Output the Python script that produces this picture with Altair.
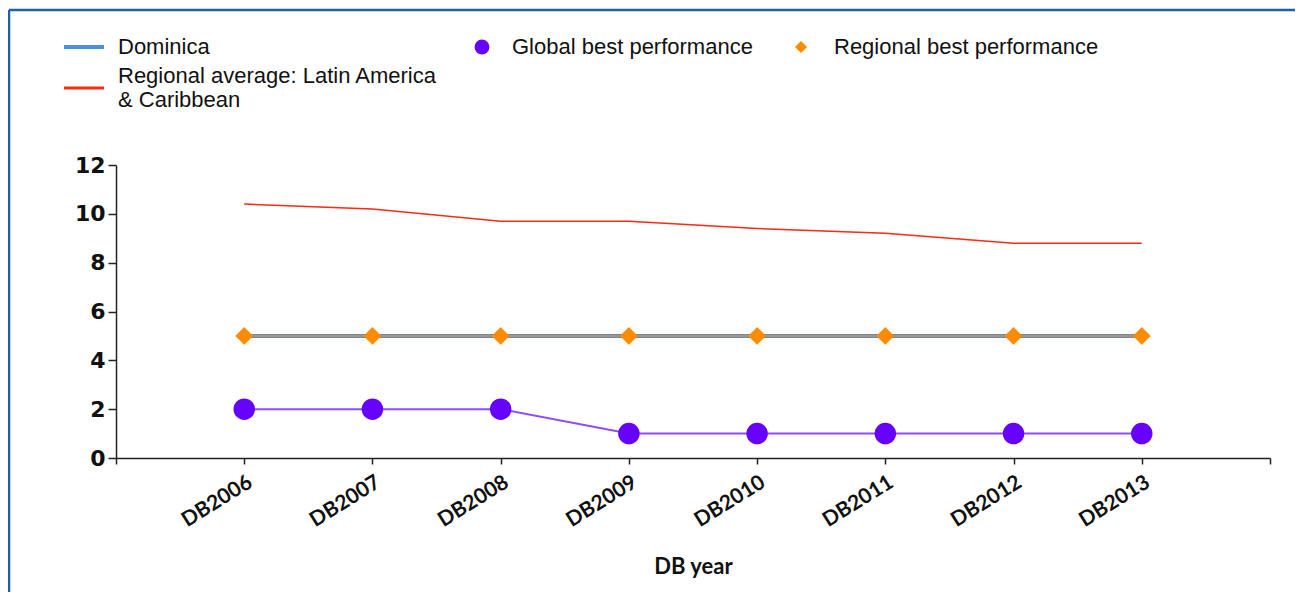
import altair as alt
import pandas as pd

years = ["DB2006", "DB2007", "DB2008", "DB2009", "DB2010", "DB2011", "DB2012", "DB2013"]
dominica = [5, 5, 5, 5, 5, 5, 5, 5]
regional_avg = [10.4, 10.2, 9.7, 9.7, 9.4, 9.2, 8.8, 8.8]
global_best = [2, 2, 2, 1, 1, 1, 1, 1]
regional_best = [5, 5, 5, 5, 5, 5, 5, 5]

df = pd.DataFrame({
    "year": years,
    "idx": list(range(1, len(years) + 1)),
    "dominica": dominica,
    "regional_avg": regional_avg,
    "global_best": global_best,
    "regional_best": regional_best,
})

label_arr = "[''," + ",".join("'%s'" % y for y in years) + ",'']"

W, H = 1154, 293
x = alt.X("idx:Q", scale=alt.Scale(domain=[0, len(years) + 1], nice=False, zero=False),
          axis=alt.Axis(title="DB year", values=list(range(0, len(years) + 2)),
                        labelExpr=label_arr + "[datum.value]",
                        labelAngle=-32, labelAlign="right", labelBaseline="top",
                        labelFont="Lato", labelFontWeight="bold", labelFontSize=21,
                        labelColor="#111", labelPadding=7,
                        titleFont="Lato", titleFontWeight="bold", titleFontSize=22,
                        titleColor="#111", titlePadding=26,
                        grid=False, domainColor="#222", tickColor="#222",
                        domainWidth=1.5, tickWidth=1.5, tickSize=6))
yaxis = alt.Axis(title=None, values=[0, 2, 4, 6, 8, 10, 12], grid=False,
                 labelFont="DejaVu Sans", labelFontWeight="bold", labelFontSize=22,
                 labelColor="#111", labelPadding=3,
                 domainColor="#222", tickColor="#222", domainWidth=1.5, tickWidth=1.5, tickSize=8)
yscale = alt.Scale(domain=[0, 12], nice=False)

base = alt.Chart(df)

dom_line = base.mark_line(color="#4a90e2", strokeWidth=4).encode(
    x=x, y=alt.Y("dominica:Q", scale=yscale, axis=yaxis))
avg_line = base.mark_line(color="#ff2a10", strokeWidth=1.5).encode(
    x=x, y=alt.Y("regional_avg:Q", scale=yscale, axis=yaxis))
gb_line = base.mark_line(color="#8c4dff", strokeWidth=2).encode(
    x=x, y=alt.Y("global_best:Q", scale=yscale, axis=yaxis))
gb_pts = base.mark_point(filled=True, shape="circle", size=460, color="#6600ff", opacity=1).encode(
    x=x, y=alt.Y("global_best:Q", scale=yscale, axis=yaxis))
rb_line = base.mark_line(color="#ff8c00", strokeWidth=1.5).encode(
    x=x, y=alt.Y("regional_best:Q", scale=yscale, axis=yaxis))
rb_pts = base.mark_point(filled=True, shape="diamond", size=320, color="#ff8c00", opacity=1).encode(
    x=x, y=alt.Y("regional_best:Q", scale=yscale, axis=yaxis))

# Legend (decoration, positioned in pixels relative to plot area)
leg_font = dict(font="Liberation Sans", fontSize=22, color="#111", align="left", baseline="middle")
one = pd.DataFrame({"a": [0]})
lb = alt.Chart(one)
legend = [
    lb.mark_rule(color="#4a90e2", strokeWidth=4).encode(x=alt.value(-52), x2=alt.value(-12), y=alt.value(-118)),
    lb.mark_text(**leg_font).encode(x=alt.value(2), y=alt.value(-118), text=alt.value("Dominica")),
    lb.mark_rule(color="#ff2a10", strokeWidth=3).encode(x=alt.value(-52), x2=alt.value(-12), y=alt.value(-77)),
    lb.mark_text(**leg_font).encode(x=alt.value(2), y=alt.value(-89), text=alt.value("Regional average: Latin America")),
    lb.mark_text(**leg_font).encode(x=alt.value(2), y=alt.value(-65), text=alt.value("& Caribbean")),
    lb.mark_point(filled=True, shape="circle", size=220, color="#6600ff", opacity=1).encode(x=alt.value(366), y=alt.value(-118)),
    lb.mark_text(**leg_font).encode(x=alt.value(396), y=alt.value(-118), text=alt.value("Global best performance")),
    lb.mark_point(filled=True, shape="diamond", size=150, color="#ff8c00", opacity=1).encode(x=alt.value(685), y=alt.value(-118)),
    lb.mark_text(**leg_font).encode(x=alt.value(718), y=alt.value(-118), text=alt.value("Regional best performance")),
    # outer frame
    lb.mark_rule(color="#1f5ea8", strokeWidth=2.5).encode(x=alt.value(-107), x2=alt.value(1179), y=alt.value(-155)),
    lb.mark_rule(color="#1f5ea8", strokeWidth=2.5).encode(x=alt.value(-107), y=alt.value(-155), y2=alt.value(430)),
]

chart = alt.layer(dom_line, avg_line, gb_line, rb_line, gb_pts, rb_pts, *legend).properties(
    width=W, height=H,
    autosize=alt.AutoSizeParams(type="none"),
    padding={"left": 108, "top": 157, "right": 25, "bottom": 134},
).configure(background="white").configure_view(strokeWidth=0, stroke="transparent")

chart.save("out.html", embed_options={"renderer": "svg", "actions": False})
